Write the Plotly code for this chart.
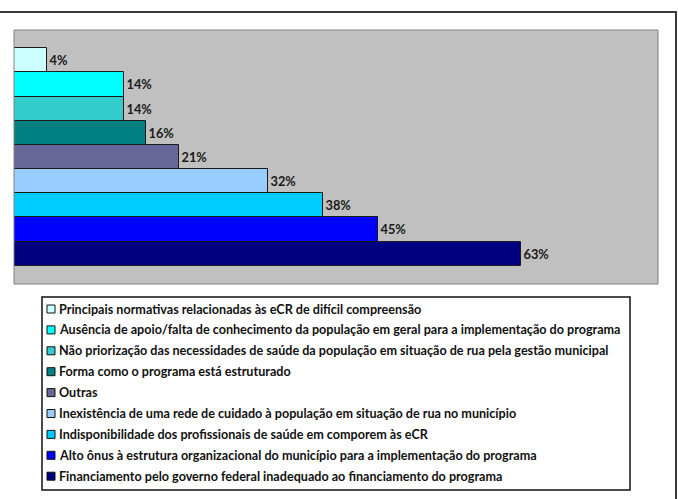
import plotly.graph_objects as go

# ---- data (top bar / top legend row first) ----
categories = [
    "Principais normativas relacionadas às eCR de difícil compreensão",
    "Ausência de apoio/falta de conhecimento da população em geral para a implementação do programa",
    "Não priorização das necessidades de saúde da população em situação de rua pela gestão municipal",
    "Forma como o programa está estruturado",
    "Outras",
    "Inexistência de uma rede de cuidado à população em situação de rua no município",
    "Indisponibilidade dos profissionais de saúde em comporem às eCR",
    "Alto ônus à estrutura organizacional do município para a implementação do programa",
    "Financiamento pelo governo federal inadequado ao financiamento do programa",
]
values = [4.1, 13.7, 13.7, 16.4, 20.5, 31.5, 38.4, 45.2, 63.0]
labels = ["4%", "14%", "14%", "16%", "21%", "32%", "38%", "45%", "63%"]
colors = ["#CCFFFF", "#00FFFF", "#33CCCC", "#008080", "#666699",
          "#99CCFF", "#00CCFF", "#0000FF", "#000080"]

W, H = 678, 499
PL, PR, PT, PB = 14, 658, 30, 284  # plot area in pixels
FONT = "Lato"


def px(xp):
    return (xp - PL) / (PR - PL)


def py(yp):
    return (PB - yp) / (PB - PT)


fig = go.Figure()
for cat, val, lab, col in zip(categories, values, labels, colors):
    fig.add_trace(go.Bar(
        x=[val], y=[cat], orientation="h",
        marker=dict(color=col, line=dict(color="#1a1a1a", width=1)),
        text=[lab], textposition="outside", cliponaxis=False,
        constraintext="none",
        textfont=dict(family=FONT, size=12.8, color="#1a1a1a", weight="bold"),
        showlegend=False, hoverinfo="skip",
    ))

shapes = []
annotations = []
# plot area border
shapes.append(dict(type="rect", xref="paper", yref="paper", x0=0, x1=1, y0=0, y1=1,
                   line=dict(color="#808080", width=1)))
# outer chart frame
shapes.append(dict(type="rect", xref="paper", yref="paper",
                   x0=px(-20), x1=px(676), y0=py(520), y1=py(12),
                   line=dict(color="#3a3a3a", width=2)))
# legend box
shapes.append(dict(type="rect", xref="paper", yref="paper",
                   x0=px(42), x1=px(630), y0=py(490), y1=py(297),
                   line=dict(color="#111111", width=1.5), fillcolor="white"))
for i, (cat, col) in enumerate(zip(categories, colors)):
    yc = 309 + 20.9 * i
    shapes.append(dict(type="rect", xref="paper", yref="paper",
                       x0=px(47), x1=px(55), y0=py(yc + 4), y1=py(yc - 4),
                       line=dict(color="#111111", width=1), fillcolor=col))
    annotations.append(dict(xref="paper", yref="paper", x=px(57), y=py(yc),
                            xanchor="left", yanchor="middle", showarrow=False,
                            text=cat,
                            font=dict(family=FONT, size=12.6, color="#111111", weight="bold")))

fig.update_layout(
    width=W, height=H,
    margin=dict(l=PL, r=W - PR, t=PT, b=H - PB, pad=0),
    paper_bgcolor="white", plot_bgcolor="#C0C0C0",
    barmode="overlay", bargap=0,
    xaxis=dict(range=[0, 80], visible=False, fixedrange=True),
    yaxis=dict(type="category", categoryorder="array", categoryarray=categories[::-1],
               range=[-1.25, 9.25], showticklabels=False, showgrid=False,
               zeroline=False, fixedrange=True),
    shapes=shapes, annotations=annotations,
    showlegend=False,
)

fig.write_html("out.html")
